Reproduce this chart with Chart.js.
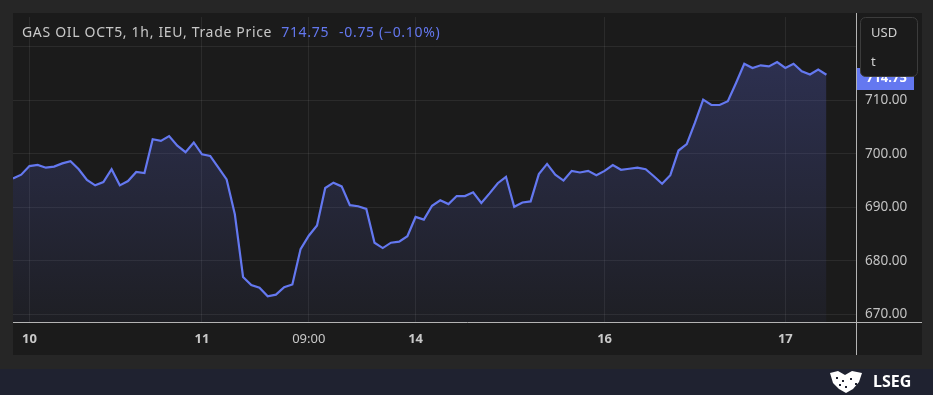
<!DOCTYPE html>
<html>
<head>
<meta charset="utf-8">
<script src="https://cdn.jsdelivr.net/npm/chart.js@4.4.1/dist/chart.umd.min.js"></script>
<style>
  html, body { margin: 0; padding: 0; background: #262626; }
  #wrap { width: 933px; height: 395px; position: relative; }
</style>
</head>
<body>
<div id="wrap"><canvas id="c"></canvas></div>
<script>
// ---- data ----
const prices = [
  695.4, 696.1, 697.7, 697.9, 697.4, 697.6, 698.2, 698.6, 697.1, 695.1,
  694.1, 694.7, 697.1, 694.1, 694.9, 696.6, 696.4, 702.7, 702.4, 703.3,
  701.5, 700.3, 702.1, 699.9, 699.6, 697.4, 695.2, 688.7, 677.0, 675.5,
  675.0, 673.4, 673.7, 675.1, 675.6, 682.2, 684.7, 686.6, 693.6, 694.6,
  693.9, 690.4, 690.2, 689.7, 683.4, 682.4, 683.4, 683.6, 684.6, 688.2,
  687.7, 690.3, 691.3, 690.6, 692.1, 692.1, 692.8, 690.8, 692.6, 694.5,
  695.7, 690.1, 690.9, 691.1, 696.2, 698.1, 696.1, 695.0, 696.8, 696.5,
  696.8, 696.0, 696.8, 697.9, 697.0, 697.2, 697.4, 697.1, 695.8, 694.4,
  696.0, 700.6, 701.8, 705.8, 710.1, 709.1, 709.1, 709.8, 713.2, 716.8,
  716.0, 716.5, 716.3, 717.1, 716.0, 716.8, 715.4, 714.8, 715.7, 714.75
];
const xTickIndex = [2, 23, 36, 49, 72, 94];
const xTickLabels = ['10', '11', '09:00', '14', '16', '17'];
const yTicks = [670, 680, 690, 700, 710, 720];
const titleText = 'GAS OIL OCT5, 1h, IEU, Trade Price';
const lastPrice = '714.75';
const changeText = '-0.75 (\u22120.10%)';
const currency = 'USD';
const unit = 't';

const LINE = '#6478f0';
const FONT = "'Noto Sans', 'Open Sans', sans-serif";

const deco = {
  id: 'deco',
  beforeDraw(chart) {
    const ctx = chart.ctx;
    ctx.save();
    ctx.fillStyle = '#262626';
    ctx.fillRect(0, 0, 933, 395);
    ctx.fillStyle = '#1b1b1b';
    ctx.fillRect(13, 13, 909, 342);
    ctx.fillStyle = '#1f2230';
    ctx.fillRect(0, 369, 933, 26);
    ctx.restore();
  },
  afterDraw(chart) {
    const ctx = chart.ctx;
    const ca = chart.chartArea;
    ctx.save();
    // axis border lines
    ctx.strokeStyle = '#b4b4b4';
    ctx.lineWidth = 1;
    ctx.beginPath();
    ctx.moveTo(ca.right + 0.5, 13); ctx.lineTo(ca.right + 0.5, 355);
    ctx.moveTo(13, ca.bottom + 0.5); ctx.lineTo(922, ca.bottom + 0.5);
    ctx.stroke();

    // title
    ctx.font = '14px ' + FONT;
    ctx.letterSpacing = '0.68px';
    ctx.textBaseline = 'middle';
    ctx.fillStyle = '#c8c8c8';
    let x = 22;
    ctx.fillText(titleText, x, 33);
    x += ctx.measureText(titleText).width + 9;
    ctx.fillStyle = LINE;
    ctx.fillText(lastPrice, x, 33);
    x += ctx.measureText(lastPrice).width + 10;
    ctx.fillText(changeText, x, 33);
    ctx.letterSpacing = '0px';

    // last price label (partly hidden under the currency box)
    ctx.fillStyle = LINE;
    ctx.fillRect(ca.right + 1, 68, 57, 22);
    ctx.fillStyle = '#ffffff';
    ctx.font = 'bold 13px ' + FONT;
    ctx.fillText(lastPrice, ca.right + 10, 78);

    // currency box
    ctx.beginPath();
    ctx.roundRect(860.5, 17.5, 57, 59, 5);
    ctx.fillStyle = '#1b1b1b';
    ctx.fill();
    ctx.strokeStyle = '#3c3c3c';
    ctx.stroke();
    ctx.fillStyle = '#d0d0d0';
    ctx.font = '13px ' + FONT;
    ctx.fillText(currency, 871, 33);
    ctx.fillText(unit, 871, 62);

    // logo
    ctx.fillStyle = '#ffffff';
    ctx.font = 'bold 16px ' + FONT;
    ctx.fillText('LSEG', 873, 382);
    ctx.beginPath();
    ctx.moveTo(830, 373); ctx.lineTo(838, 371); ctx.lineTo(845, 375); ctx.lineTo(852, 371);
    ctx.lineTo(862, 373); ctx.lineTo(859, 382); ctx.lineTo(853, 389); ctx.lineTo(846, 393);
    ctx.lineTo(839, 389); ctx.lineTo(833, 383); ctx.closePath();
    ctx.fill();
    ctx.fillStyle = '#1f2230';
    [[836,377],[842,380],[850,378],[855,383],[845,386],[839,384]].forEach(p => ctx.fillRect(p[0], p[1], 2, 2));
    ctx.restore();
  }
};

new Chart(document.getElementById('c'), {
  type: 'line',
  data: {
    datasets: [{
      data: prices.map((v, i) => ({ x: i, y: v })),
      borderColor: LINE,
      borderWidth: 2.2,
      pointRadius: 0,
      tension: 0,
      fill: 'start',
      backgroundColor: (c) => {
        const a = c.chart.chartArea;
        if (!a) return 'rgba(80,90,180,0.2)';
        const g = c.chart.ctx.createLinearGradient(0, a.top, 0, a.bottom);
        g.addColorStop(0, 'rgba(80,90,185,0.38)');
        g.addColorStop(1, 'rgba(80,90,185,0.06)');
        return g;
      }
    }]
  },
  options: {
    responsive: true,
    maintainAspectRatio: false,
    animation: false,
    layout: { padding: { left: 13, top: 13, right: 11, bottom: 40 } },
    plugins: { legend: { display: false }, tooltip: { enabled: false } },
    scales: {
      x: {
        type: 'linear',
        min: 0,
        max: 102.6,
        afterBuildTicks: (s) => { s.ticks = xTickIndex.map(v => ({ value: v })); },
        afterFit: (s) => { s.height = 33; },
        grid: { color: 'rgba(255,255,255,0.075)', drawTicks: false },
        border: { display: false },
        ticks: {
          autoSkip: false,
          maxRotation: 0,
          padding: 9,
          color: '#c8c8c8',
          font: (c) => {
            const lbl = c.tick ? c.tick.label : '';
            return { family: FONT, size: 13, weight: (lbl && lbl.indexOf(':') >= 0) ? 'normal' : 'bold' };
          },
          callback: (v) => { const k = xTickIndex.indexOf(v); return k >= 0 ? xTickLabels[k] : ''; }
        }
      },
      y: {
        position: 'right',
        min: 668.6,
        max: 725.5,
        afterBuildTicks: (s) => { s.ticks = yTicks.map(v => ({ value: v })); },
        afterFit: (s) => { s.width = 66; },
        grid: { color: 'rgba(255,255,255,0.075)', drawTicks: false },
        border: { display: false },
        ticks: {
          padding: 9,
          color: '#c3c3c3',
          font: { family: FONT, size: 13.5 },
          callback: (v) => v.toFixed(2)
        }
      }
    }
  },
  plugins: [deco]
});
</script>
</body>
</html>
